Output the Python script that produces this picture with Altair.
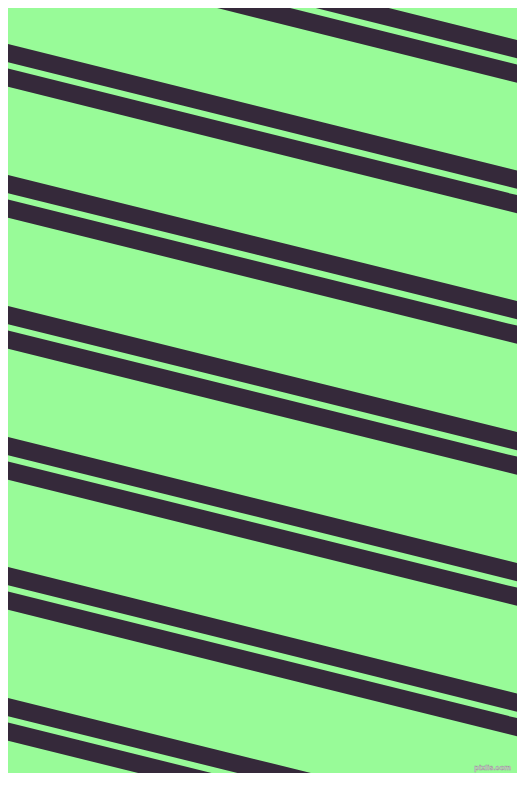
import altair as alt
import pandas as pd

# Top edge (y, px from page top) of each stripe pair, read at the left edge x=0
pair_top_left = [-89, 42, 173, 304, 435, 565, 696, 827]
# Same pairs' top edge read at the right edge x=525
pair_top_right = [42, 172.5, 303, 434, 565, 695.5, 826, 957]
# Within a pair: vertical centre offsets of the two stripes from the pair top
stripe_center_offsets = [9.1, 33.7]

rows = []
for i, (yl, yr) in enumerate(zip(pair_top_left, pair_top_right)):
    for j, off in enumerate(stripe_center_offsets):
        rows.append({"pair": i, "stripe": j, "x0": 0, "x1": 525,
                     "y0": yl + off, "y1": yr + off})
df = pd.DataFrame(rows)

W, H = 509, 765
xs = alt.Scale(domain=[8, 8 + W], nice=False, zero=False)
ys = alt.Scale(domain=[8, 8 + H], nice=False, zero=False, reverse=True)

stripes = alt.Chart(df).mark_rule(
    color="#35293A", strokeWidth=17.66, strokeCap="square", clip=True
).encode(
    x=alt.X("x0:Q", scale=xs, axis=None),
    x2="x1:Q",
    y=alt.Y("y0:Q", scale=ys, axis=None),
    y2="y1:Q",
)

mark_text = alt.Chart(pd.DataFrame({"t": ["pixlis.com"]})).mark_text(
    fontSize=7.5, font="Liberation Sans", fontWeight="bold", color="#eeeeee",
    stroke="#9a9a9a", strokeWidth=0.5, align="right", baseline="bottom"
).encode(x=alt.value(W - 6), y=alt.value(H - 1), text="t:N")

chart = alt.layer(stripes, mark_text).properties(
    width=W, height=H, padding=0, autosize=alt.AutoSizeParams(type="none"),
    background="#98FB98"
).configure_view(stroke=None, fill="#98FB98")

chart.save("out.html", embed_options={"renderer": "svg", "actions": False})
